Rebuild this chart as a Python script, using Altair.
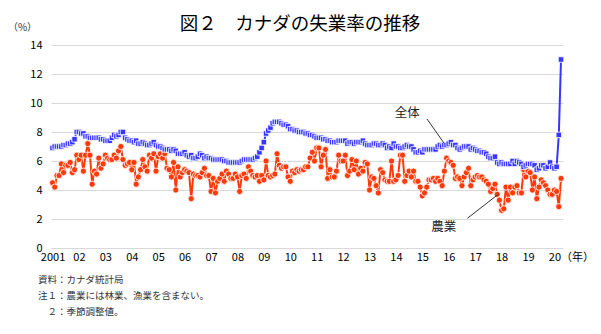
import altair as alt
import pandas as pd

FONT = "Noto Sans CJK JP"

# x-axis tick labels (January of each year)
year_labels = ["2001", "02", "03", "04", "05", "06", "07", "08", "09", "10",
               "11", "12", "13", "14", "15", "16", "17", "18", "19", "20"]

# 全体 (total unemployment rate, %), monthly Jan 2001 - Apr 2020
zentai = [
    6.9, 7.0, 7.0, 7.0, 7.0, 7.1, 7.1, 7.2, 7.2, 7.3, 7.5, 8.0,   # 2001
    8.0, 7.9, 7.9, 7.7, 7.7, 7.6, 7.6, 7.6, 7.6, 7.6, 7.5, 7.5,   # 2002
    7.4, 7.4, 7.4, 7.6, 7.8, 7.7, 7.8, 8.0, 8.0, 7.6, 7.5, 7.4,   # 2003
    7.4, 7.3, 7.4, 7.2, 7.2, 7.3, 7.2, 7.1, 7.1, 7.2, 7.3, 7.1,   # 2004
    7.0, 7.0, 6.9, 6.8, 6.8, 6.8, 6.7, 6.8, 6.7, 6.5, 6.5, 6.5,   # 2005
    6.6, 6.4, 6.3, 6.4, 6.2, 6.2, 6.3, 6.5, 6.4, 6.2, 6.3, 6.2,   # 2006
    6.2, 6.1, 6.1, 6.1, 6.1, 6.1, 6.0, 6.0, 5.9, 5.9, 5.9, 5.9,   # 2007
    5.9, 5.9, 6.0, 6.1, 6.1, 6.1, 6.1, 6.1, 6.2, 6.3, 6.6, 6.9,   # 2008
    7.3, 7.9, 8.1, 8.3, 8.6, 8.7, 8.7, 8.7, 8.6, 8.5, 8.5, 8.4,   # 2009
    8.2, 8.2, 8.1, 8.1, 8.0, 8.0, 8.0, 7.9, 7.9, 7.8, 7.8, 7.7,   # 2010
    7.6, 7.6, 7.6, 7.5, 7.5, 7.4, 7.4, 7.3, 7.3, 7.3, 7.4, 7.4,   # 2011
    7.4, 7.4, 7.2, 7.3, 7.3, 7.2, 7.3, 7.3, 7.3, 7.4, 7.2, 7.1,   # 2012
    7.1, 7.1, 7.2, 7.2, 7.1, 7.1, 7.2, 7.1, 6.9, 7.0, 6.9, 7.2,   # 2013
    7.0, 7.0, 6.9, 6.9, 7.0, 7.1, 7.0, 7.0, 6.8, 6.6, 6.6, 6.7,   # 2014
    6.6, 6.8, 6.8, 6.8, 6.8, 6.8, 6.8, 7.0, 7.1, 7.0, 7.1, 7.1,   # 2015
    7.2, 7.3, 7.1, 7.1, 6.9, 6.8, 6.9, 7.0, 7.0, 7.0, 6.8, 6.9,   # 2016
    6.8, 6.7, 6.7, 6.6, 6.6, 6.5, 6.3, 6.2, 6.2, 6.3, 5.9, 5.8,   # 2017
    5.9, 5.8, 5.8, 5.8, 5.8, 6.0, 5.8, 6.0, 5.9, 5.8, 5.6, 5.7,   # 2018
    5.8, 5.8, 5.8, 5.7, 5.4, 5.5, 5.7, 5.7, 5.5, 5.6, 5.9, 5.6,   # 2019
    5.5, 5.6, 7.8, 13.0,                                          # 2020
]

# 農業 (agriculture unemployment rate, %)
nogyo = [
    4.5, 4.2, 5.0, 5.0, 5.8, 5.2, 5.7, 5.7, 5.9, 5.2, 5.4, 6.4,   # 2001
    6.1, 6.4, 5.3, 6.4, 7.2, 6.4, 4.4, 5.3, 5.1, 6.2, 5.5, 5.8,   # 2002
    6.4, 6.2, 6.1, 6.1, 6.4, 6.2, 6.7, 7.0, 6.1, 5.7, 5.8, 5.9,   # 2003
    5.4, 5.9, 4.4, 4.9, 5.4, 6.1, 5.6, 5.3, 6.4, 6.2, 6.5, 5.3,   # 2004
    6.3, 6.5, 6.2, 6.5, 5.5, 5.4, 4.9, 5.9, 4.0, 5.6, 4.9, 5.2,   # 2005
    5.4, 5.3, 5.2, 3.4, 5.1, 5.0, 5.0, 4.9, 5.2, 5.5, 5.0, 5.0,   # 2006
    3.9, 4.8, 3.8, 4.6, 4.8, 5.1, 4.6, 5.3, 5.1, 4.8, 4.8, 5.1,   # 2007
    4.9, 3.9, 5.0, 5.1, 4.8, 5.6, 5.3, 5.0, 4.9, 5.0, 4.6, 5.0,   # 2008
    4.7, 6.0, 5.0, 4.9, 5.0, 5.1, 6.5, 5.7, 5.5, 5.6, 5.6, 4.9,   # 2009
    4.6, 5.3, 5.2, 5.4, 5.3, 5.4, 5.4, 5.6, 5.6, 6.2, 6.6, 6.0,   # 2010
    6.9, 6.9, 5.6, 6.4, 6.8, 4.8, 5.4, 4.9, 4.9, 5.3, 6.4, 6.0,   # 2011
    6.0, 6.4, 5.0, 5.3, 6.1, 5.4, 6.0, 5.1, 5.5, 5.3, 5.9, 5.8,   # 2012
    4.0, 4.9, 4.8, 4.3, 3.8, 5.4, 5.2, 4.7, 4.6, 4.6, 6.0, 4.6,   # 2013
    4.7, 5.0, 6.4, 6.4, 4.6, 5.0, 5.3, 4.9, 5.3, 4.6, 4.6, 4.2,   # 2014
    3.6, 3.8, 4.2, 4.7, 4.7, 4.8, 4.6, 4.8, 4.6, 4.3, 5.3, 6.2,   # 2015
    6.0, 5.9, 5.7, 4.8, 4.9, 4.8, 4.3, 4.9, 5.2, 5.5, 4.3, 4.7,   # 2016
    4.9, 5.0, 4.9, 4.9, 4.7, 4.6, 4.4, 3.9, 4.1, 4.4, 3.7, 3.3,   # 2017
    2.6, 2.7, 4.2, 3.3, 4.2, 3.8, 4.2, 4.3, 3.8, 3.8, 5.4, 4.9,   # 2018
    5.3, 5.2, 4.0, 4.9, 3.4, 4.2, 4.7, 4.5, 4.3, 4.0, 3.7, 3.7,   # 2019
    4.0, 3.9, 2.85, 4.8,                                          # 2020
]

# annotation labels and leader lines (data coordinates: month index, %)
ann_text = ["全体", "農業"]
ann_m = [161.2, 177.7]
ann_v = [9.33, 1.45]
lead_m = [170.1, 188.5]
lead_v = [8.9, 2.05]
lead_m2 = [177.9, 202.6]
lead_v2 = [7.22, 3.72]

title_text = "図２　カナダの失業率の推移"
note_lines = ["資料：カナダ統計局", "注１：農業には林業、漁業を含まない。", "２：季節調整値。"]

BLUE = "#3636ff"
RED = "#ff3a0a"

n = len(zentai)
df_z = pd.DataFrame({"m": list(range(n)), "v": zentai})
df_n = pd.DataFrame({"m": list(range(n)), "v": nogyo})
df_ann = pd.DataFrame({"t": ann_text, "m": ann_m, "v": ann_v})
df_lead = pd.DataFrame({"m": lead_m, "v": lead_v, "m2": lead_m2, "v2": lead_v2})

x_values = [i * 12 for i in range(len(year_labels))]
y_values = list(range(0, 15, 2))
label_expr = "[" + ",".join("'" + s + "'" for s in year_labels) + "][round(datum.value/12)]"

x_enc = alt.X(
    "m:Q",
    scale=alt.Scale(domain=[-0.7, 231.9], nice=False, zero=False),
    axis=alt.Axis(
        values=x_values, tickCount=len(x_values),
        labelExpr=label_expr,
        grid=False, domain=False, ticks=False,
        labelPadding=3, labelFontSize=11, labelColor="black", labelFont=FONT,
        title="（年）", titleFont=FONT, titleFontSize=11, titleFontWeight="normal",
        titleColor="black", titleX=526, titleY=9, titleAlign="center",
        titleBaseline="middle", labelOverlap=False,
    ),
)
y_enc = alt.Y(
    "v:Q",
    scale=alt.Scale(domain=[0, 14], nice=False),
    axis=alt.Axis(
        values=y_values, tickCount=len(y_values),
        grid=True, gridColor="#d9d9d9", gridWidth=1,
        domain=False, ticks=False, labelPadding=9, labelOverlap=False,
        labelFontSize=11, labelColor="black", labelFont=FONT,
        title="（%）", titleFont=FONT, titleFontSize=10, titleFontWeight="normal",
        titleColor="#333333", titleAngle=0, titleX=-29, titleY=-18,
        titleAlign="center", titleBaseline="middle",
    ),
)

red_line = alt.Chart(df_n).mark_line(color=RED, strokeWidth=2).encode(x=x_enc, y=y_enc)
red_pts = alt.Chart(df_n).mark_circle(size=38, color=RED, opacity=1, stroke="white",
                                      strokeWidth=0.8).encode(x="m:Q", y="v:Q")
blue_line = alt.Chart(df_z).mark_line(color=BLUE, strokeWidth=2).encode(x="m:Q", y="v:Q")
blue_pts = alt.Chart(df_z).mark_square(size=30, color=BLUE, opacity=1, stroke="white",
                                       strokeWidth=0.8).encode(x="m:Q", y="v:Q")

leaders = alt.Chart(df_lead).mark_rule(color="#333333", strokeWidth=1).encode(
    x="m:Q", y="v:Q", x2="m2:Q", y2="v2:Q")
ann = alt.Chart(df_ann).mark_text(font=FONT, fontSize=12.5, color="#222222").encode(
    x="m:Q", y="v:Q", text="t:N")

title = alt.Chart(pd.DataFrame({"t": [title_text]})).mark_text(
    font=FONT, fontSize=18.5, color="black", align="center", baseline="middle"
).encode(text="t:N", x=alt.value(249), y=alt.value(-21))

note_style = dict(font=FONT, fontSize=9.5, color="#333333", align="left", baseline="middle")
note1 = alt.Chart(pd.DataFrame({"t": [note_lines[0]]})).mark_text(**note_style).encode(
    text="t:N", x=alt.value(-13), y=alt.value(235))
note2 = alt.Chart(pd.DataFrame({"t": [note_lines[1]]})).mark_text(**note_style).encode(
    text="t:N", x=alt.value(-13), y=alt.value(251))
note3 = alt.Chart(pd.DataFrame({"t": [note_lines[2]]})).mark_text(**note_style).encode(
    text="t:N", x=alt.value(-3.5), y=alt.value(267))

chart = alt.layer(
    red_line, red_pts, blue_line, blue_pts, leaders, ann, title, note1, note2, note3
).properties(
    width=512, height=203,
    autosize=alt.AutoSizeParams(type="none"),
    padding={"left": 51, "top": 45, "right": 38, "bottom": 86},
).configure_view(stroke=None)

chart.save("out.html", embed_options={"renderer": "svg", "actions": False})
